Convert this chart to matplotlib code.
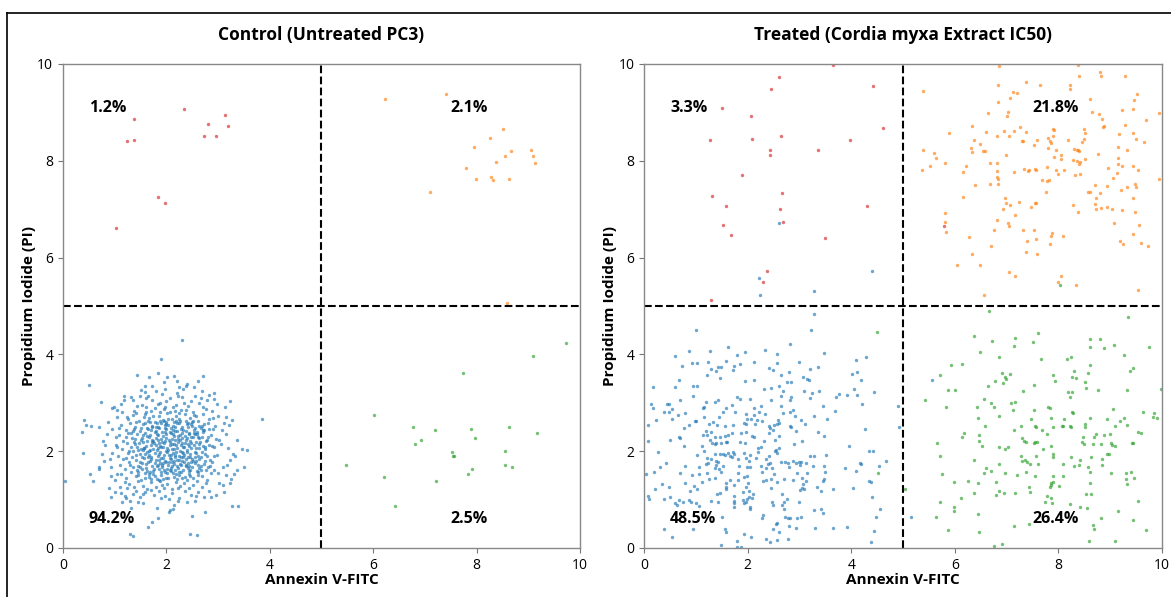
import numpy as np
import matplotlib
matplotlib.use("Agg")
import matplotlib.pyplot as plt
from matplotlib.lines import Line2D

plt.rcParams['font.family'] = ['Open Sans', 'DejaVu Sans']


def pts(s):
    # "x,y x,y ..." -> two arrays
    arr = np.array([[float(v) for v in p.split(',')] for p in s.split()])
    return arr[:, 0], arr[:, 1]


# ---- Control (untreated) ----
ctrl_necrotic = pts("""1.03,6.62 1.24,8.41 1.37,8.44 1.38,8.87 1.84,7.26 1.98,7.12 2.35,9.08
2.73,8.52 2.80,8.76 2.96,8.52 3.13,8.95 3.20,8.71""")

ctrl_late = pts("""6.23,9.27 7.40,9.38 7.10,7.35 7.80,7.85 7.95,8.29 7.98,7.62 8.25,8.47
8.27,7.67 8.31,7.61 8.38,7.98 8.52,8.65 8.55,8.10 8.62,7.63 8.66,8.20 9.06,8.22
9.09,8.10 9.12,7.95 8.58,5.07""")

ctrl_early = pts("""5.47,1.72 6.02,2.75 6.20,1.46 6.43,0.87 6.77,2.50 6.80,2.14 6.92,2.24
7.19,2.43 7.21,1.38 7.53,1.99 7.54,1.90 7.56,1.90 7.73,3.61 7.83,1.53 7.89,2.45
7.91,1.63 7.97,2.28 8.54,2.01 8.55,1.71 8.63,2.50 8.69,1.67 9.10,3.97 9.17,2.37
9.73,4.24""")

ctrl_live = pts("""2.31,4.30 1.89,3.90 0.50,3.37 1.43,3.57 1.84,3.62 1.67,3.53 2.01,3.54
2.15,3.56 2.20,3.46 2.71,3.55 2.61,3.45 2.38,3.35 1.59,3.35 1.51,3.26 1.80,3.24
1.98,3.28 2.24,3.32 2.54,3.33 0.74,3.02 1.18,3.06 1.35,3.06 1.61,3.09 1.64,3.13
2.92,3.20 2.93,3.07 3.23,3.04 0.95,2.89 0.99,2.91 1.44,2.93 1.88,3.00 1.99,3.04
2.23,3.13 2.55,3.14 2.71,2.92 3.13,2.91 0.41,2.64 0.37,2.40 0.44,2.54 0.54,2.52
0.70,2.49 3.85,2.67 3.16,2.70 3.26,2.64 3.11,2.59 2.94,2.52 3.37,2.23 3.46,2.04
3.55,2.02 3.51,1.68 0.38,1.96 0.04,1.38 0.52,1.52 0.58,1.39 0.70,1.68 0.70,1.63
0.78,2.22 0.75,1.94 0.81,2.12 0.89,1.23 0.92,1.05 1.01,1.40 1.13,1.14 1.15,0.94
1.21,1.03 1.31,0.83 1.30,0.28 1.35,0.25 1.65,0.44 1.72,0.53 1.83,0.61 2.06,0.79
2.13,0.81 2.50,0.66 2.46,0.29 2.59,0.27 2.75,0.74 3.27,0.86 3.39,0.87 3.12,1.15
3.23,1.34 3.24,1.43 3.30,1.53 3.15,1.51 3.02,1.34 2.82,1.17 2.57,1.08 2.40,0.95
2.22,0.97 1.89,1.03 1.46,0.94 1.55,1.12 1.70,1.20 1.42,1.18 1.24,1.23 1.19,1.36
1.05,1.53 0.92,1.67 0.90,1.83 0.95,1.96 1.04,2.09 1.03,2.29 1.09,2.47 1.04,2.70
1.15,2.81 1.23,2.70 2.88,2.84 3.00,2.73 3.08,2.43 3.02,2.24 3.19,2.07 3.33,1.91
3.23,1.82 3.37,1.61 2.93,1.61 3.09,1.68 2.97,1.92
1.52,2.95 1.70,2.83 1.83,2.97 1.95,2.88 2.07,2.81 2.18,2.96 2.29,2.86 2.41,2.93
2.52,2.82 2.63,2.99 1.38,2.84 2.77,2.87 1.61,2.91 2.34,2.99 2.12,2.91 1.88,2.80
1.25,2.66 1.36,2.74 1.47,2.62 1.58,2.77 1.66,2.68 1.77,2.61 1.86,2.73 1.93,2.64
2.02,2.78 2.11,2.67 2.19,2.72 2.27,2.63 2.36,2.77 2.45,2.68 2.54,2.74 2.62,2.63
2.71,2.76 2.83,2.66 1.42,2.79 2.24,2.79 1.99,2.61 2.49,2.61
1.12,2.55 1.21,2.44 1.29,2.58 1.40,2.49 1.49,2.42 1.55,2.57 1.64,2.46 1.72,2.53
1.80,2.41 1.89,2.58 1.97,2.47 2.04,2.55 2.13,2.43 2.21,2.59 2.30,2.50 2.38,2.42
2.47,2.56 2.56,2.47 2.64,2.53 2.73,2.44 2.81,2.58 2.90,2.46 1.35,2.41 1.84,2.50
2.17,2.51 2.60,2.40 1.68,2.60 2.42,2.59
1.08,2.33 1.17,2.22 1.26,2.37 1.33,2.27 1.44,2.35 1.51,2.24 1.59,2.38 1.67,2.29
1.75,2.21 1.82,2.36 1.90,2.26 1.98,2.39 2.05,2.23 2.14,2.32 2.22,2.25 2.31,2.38
2.39,2.28 2.46,2.21 2.55,2.35 2.63,2.27 2.71,2.39 2.79,2.23 2.87,2.34 2.95,2.26
1.37,2.20 1.62,2.31 1.94,2.31 2.26,2.34 2.51,2.29 2.09,2.37 1.79,2.28 2.43,2.36
1.22,2.30
1.03,2.12 1.14,2.04 1.23,2.17 1.31,2.08 1.39,2.15 1.46,2.02 1.54,2.19 1.61,2.10
1.69,2.03 1.76,2.16 1.84,2.07 1.91,2.18 1.99,2.01 2.06,2.13 2.15,2.05 2.23,2.19
2.32,2.09 2.40,2.02 2.48,2.16 2.57,2.07 2.65,2.18 2.74,2.04 2.83,2.13 2.92,2.08
1.28,2.01 1.57,2.06 1.88,2.11 2.19,2.12 2.44,2.10 2.70,2.11 1.72,2.19 2.02,2.07
2.36,2.16 1.43,2.09
1.06,1.91 1.16,1.83 1.25,1.96 1.34,1.87 1.41,1.81 1.49,1.94 1.56,1.85 1.63,1.98
1.71,1.89 1.79,1.82 1.86,1.95 1.94,1.86 2.01,1.99 2.09,1.84 2.17,1.93 2.25,1.81
2.33,1.97 2.41,1.88 2.50,1.83 2.58,1.96 2.67,1.87 2.75,1.94 2.84,1.82 2.93,1.90
1.21,1.86 1.52,1.89 1.83,1.91 2.13,1.97 2.37,1.84 2.62,1.90 1.97,1.80 2.29,1.89
1.67,1.93 2.05,1.92
1.10,1.72 1.19,1.64 1.27,1.77 1.36,1.68 1.44,1.61 1.53,1.75 1.60,1.66 1.68,1.79
1.76,1.63 1.83,1.71 1.91,1.67 1.99,1.78 2.07,1.62 2.15,1.74 2.22,1.66 2.31,1.79
2.38,1.69 2.46,1.61 2.55,1.76 2.63,1.65 2.72,1.73 2.80,1.67 2.89,1.78 1.49,1.68
1.87,1.76 2.11,1.69 2.42,1.75 2.67,1.62 1.95,1.61 2.26,1.73 1.73,1.70
1.13,1.52 1.22,1.44 1.32,1.57 1.41,1.48 1.50,1.41 1.58,1.55 1.66,1.46 1.74,1.59
1.82,1.43 1.89,1.51 1.97,1.58 2.04,1.45 2.12,1.54 2.20,1.42 2.28,1.57 2.36,1.47
2.44,1.53 2.52,1.44 2.61,1.58 2.69,1.49 2.78,1.41 2.86,1.55 1.45,1.56 1.78,1.49
2.08,1.59 2.40,1.40 1.93,1.43 2.24,1.50
1.28,1.33 1.37,1.25 1.46,1.38 1.55,1.29 1.63,1.22 1.71,1.36 1.79,1.27 1.87,1.39
1.95,1.24 2.02,1.32 2.10,1.21 2.18,1.37 2.26,1.28 2.34,1.35 2.43,1.23 2.51,1.31
2.60,1.38 2.68,1.26 2.77,1.34 1.91,1.31 2.22,1.24
1.35,1.12 1.48,1.05 1.59,1.16 1.76,1.09 1.86,1.18 1.98,1.07 2.11,1.14 2.24,1.04
2.36,1.17 2.48,1.10 2.62,1.15 2.73,1.06 2.05,1.01
1.48,3.15 1.73,3.05 1.92,3.18 2.06,3.09 2.31,3.12 2.47,3.03 2.66,3.10 2.82,3.17
1.32,3.11 2.20,3.20
1.62,2.21 1.71,2.44 1.80,2.12 1.85,1.63 1.92,2.40 2.00,2.27 2.03,1.72 2.08,2.48
2.16,1.88 2.20,2.41 2.27,2.01 2.33,1.62 2.38,2.23 2.45,1.95 2.53,2.44 1.58,1.94
1.66,1.53 1.74,2.05 1.81,2.58 1.88,1.99 1.96,2.16 2.01,1.54 2.10,2.26 2.14,1.80
2.19,2.62 2.25,1.56 2.30,2.27 2.35,1.78 2.42,2.49 2.49,1.68 2.58,2.20 2.64,1.84
1.54,2.33 1.60,1.73 1.69,2.34 1.77,1.96 1.83,2.24 1.90,1.57 1.97,2.54 2.04,2.02
2.09,1.66 2.13,2.52 2.18,1.98 2.23,2.31 2.28,1.71 2.34,2.08 2.40,2.56 2.46,1.88
2.53,2.12 2.61,1.72 2.69,2.29 1.47,2.17 1.53,1.63 1.64,2.63 1.70,1.84 1.78,2.39
1.85,1.81 1.93,2.09 1.99,2.46 2.06,1.86 2.12,2.36 2.16,1.61 2.21,2.07 2.29,2.45
2.35,1.93 2.43,1.59 2.48,2.30 2.56,1.99 2.66,2.48 2.74,1.80 1.42,1.93 1.50,2.48
1.57,2.06 1.65,1.78 1.73,2.23 1.81,1.69 1.86,2.47 1.94,1.76 2.00,2.35 2.07,2.19
2.11,1.77 2.17,2.24 2.24,1.91 2.31,2.17 2.37,1.72 2.44,2.38 2.52,1.80 2.59,2.36
2.68,1.98 2.76,2.21
0.85,2.35 0.92,1.48 1.05,2.85 1.10,1.25 1.18,3.15 1.30,0.98 1.55,0.92 1.72,3.35
1.95,3.42 2.15,0.88 2.40,3.38 2.55,0.98 2.68,3.25 2.86,1.05 2.98,2.98 3.10,1.30
3.22,2.55 3.28,1.95 3.05,2.15 0.80,1.80 0.88,2.60 1.00,1.15 1.12,2.98 2.90,2.68
3.00,1.55 2.95,1.10 1.58,3.22 2.32,3.28 2.78,3.05 1.20,1.08 0.95,2.45 3.15,2.35
3.18,1.72 2.05,0.75 1.82,0.83
1.55,2.02 1.63,2.48 1.68,1.58 1.75,2.72 1.82,2.02 1.87,2.62 1.92,1.72 1.98,2.21
2.03,2.66 2.08,1.93 2.14,2.14 2.18,1.52 2.24,2.58 2.28,2.12 2.33,2.43 2.39,1.99
2.44,1.70 2.50,2.52 2.55,1.89 2.61,2.30 2.66,1.70 2.72,2.57 2.78,1.90 1.48,1.78
1.52,2.28 1.59,2.58 1.64,1.88 1.70,2.13 1.75,1.52 1.80,2.49 1.85,2.17 1.90,1.86
1.96,2.62 2.02,1.63 2.06,2.40 2.10,2.04 2.15,2.60 2.21,1.69 2.26,2.24 2.32,1.87
2.37,2.62 2.41,2.14 2.47,1.77 2.53,2.37 2.59,1.60 2.64,2.06 2.70,2.43 2.76,1.62
1.40,2.26 1.45,1.70 1.50,2.05 1.57,2.70 1.62,1.60 1.67,2.00 1.72,2.50 1.78,1.75
1.84,2.33 1.89,2.08 1.95,1.92 2.00,2.56 2.05,1.78 2.10,2.15 2.16,2.42 2.20,1.81
2.25,2.67 2.30,1.98 2.36,2.32 2.42,1.66 2.47,2.07 2.52,2.62 2.58,1.79 2.63,2.15
2.68,2.52 2.74,2.08 2.80,2.30 1.35,2.00 1.38,2.45 1.46,1.50 1.58,1.45 1.70,1.42
1.86,1.40 2.00,1.44 2.14,1.46 2.30,1.45 2.46,1.48 2.62,1.50 1.42,2.60 1.60,2.82
1.78,2.90 1.98,2.92 2.16,2.84 2.38,2.85 2.58,2.72 2.82,2.46 2.88,2.10 2.85,1.70
1.30,1.72 1.32,2.38""")

# ---- Treated (Cordia myxa extract IC50) ----
trt_necrotic = pts("""3.64,9.97 2.61,9.74 4.42,9.55 2.46,9.48 1.51,9.10 2.07,8.93 4.62,8.68
1.28,8.44 2.08,8.46 2.64,8.51 3.98,8.43 2.43,8.23 3.35,8.22 2.43,8.11 1.89,7.71
1.31,7.27 2.67,7.34 1.59,7.07 2.63,7.00 4.31,7.07 1.53,6.67 2.69,6.74 1.67,6.47
3.50,6.40 2.38,5.73 2.30,5.50 1.29,5.13 5.79,6.65""")

trt_late = pts("""6.85,9.96 8.38,9.98 8.80,9.83 8.82,9.76 8.40,9.75 9.29,9.75 5.38,9.44
6.83,9.57 7.37,9.62 7.65,9.57 8.22,9.57 8.22,9.48 7.12,9.43 7.20,9.40 9.51,9.37
9.46,9.26 7.07,9.30 8.60,9.28 6.83,9.21 9.44,9.07 8.64,9.01 9.23,9.04 9.94,8.99
6.63,8.99 7.03,9.00 8.79,8.97 7.01,8.92 8.84,8.87 9.68,8.85 6.33,8.71 8.85,8.70
8.88,8.71 9.29,8.73 7.26,8.69 7.90,8.65 7.92,8.64 8.49,8.66 5.88,8.57 6.60,8.59
6.94,8.62 7.15,8.62 7.37,8.60 8.51,8.57 9.16,8.55 9.43,8.58 6.82,8.51 7.05,8.51
7.79,8.48 7.89,8.51 9.50,8.46 6.36,8.42 7.29,8.40 7.32,8.40 7.59,8.44 7.83,8.40
8.19,8.44 8.46,8.38 8.50,8.45 9.66,8.38 6.48,8.34 7.52,8.32 7.85,8.36 9.14,8.29
5.39,8.22 5.59,8.17 6.31,8.26 6.55,8.20 6.59,8.21 7.79,8.26 7.95,8.22 8.30,8.25
8.35,8.22 8.38,8.22 8.39,8.21 9.32,8.22 5.63,8.05 6.34,8.19 6.98,8.11 8.04,8.13
7.92,8.08 8.05,8.04 8.28,8.02 8.36,7.99 8.41,7.98 8.51,8.04 8.77,8.15 9.15,8.06
5.52,7.89 5.80,7.96 6.21,7.89 6.67,7.95 6.82,7.95 8.39,7.94 9.14,7.94 5.37,7.81
6.16,7.76 6.82,7.78 7.33,7.84 7.41,7.78 7.44,7.81 7.55,7.84 7.57,7.81 7.78,7.87
7.95,7.81 8.10,7.82 8.96,7.85 9.22,7.90 9.43,7.89 9.53,7.82 7.14,7.76 7.99,7.73
8.31,7.71 8.41,7.73 9.13,7.74 6.82,7.66 6.84,7.63 7.77,7.58 7.82,7.60 7.69,7.60
9.05,7.64 6.38,7.50 6.67,7.53 6.84,7.52 8.71,7.51 8.94,7.48 9.48,7.52 9.50,7.46
9.21,7.40 9.32,7.45 9.94,7.62 7.76,7.36 8.57,7.35 8.61,7.36 8.80,7.33 6.15,7.25
6.97,7.24 9.43,7.24 8.72,7.24 6.99,7.13 7.24,7.15 7.55,7.12 7.57,7.12 7.07,7.08
7.47,7.05 8.28,7.09 8.71,7.11 8.82,7.03 8.94,7.05 8.72,7.00 9.03,7.00 9.22,6.98
6.93,7.00 8.38,6.94 9.47,6.94 7.17,6.89 5.80,6.93 5.81,6.74 5.82,6.52 6.82,6.78
7.03,6.71 7.04,6.66 9.07,6.71 9.55,6.67 6.76,6.58 7.31,6.58 7.52,6.57 7.88,6.51
7.86,6.44 8.09,6.45 9.44,6.49 6.28,6.42 7.40,6.35 7.56,6.38 7.84,6.28 9.18,6.35
9.25,6.29 9.59,6.31 9.72,6.23 6.69,6.23 7.37,6.12 7.59,6.07 6.34,6.08 6.04,5.85
6.49,5.85 7.04,5.71 7.17,5.63 8.05,5.63 8.00,5.50 8.34,5.43 9.54,5.34 6.56,5.22""")

trt_early = pts("""6.65,4.89 9.35,4.78 7.60,4.45 6.36,4.38 7.16,4.33 8.61,4.31 8.80,4.32
6.72,4.28 7.51,4.26 7.15,4.17 8.61,4.15 8.88,4.13 9.08,4.19 9.75,4.16 6.48,4.04
9.27,3.98 6.85,3.95 7.66,3.90 8.17,3.90 8.25,3.95 5.93,3.79 6.13,3.80 8.61,3.78
9.43,3.71 9.39,3.66 5.72,3.57 6.90,3.62 6.97,3.53 6.99,3.50 7.07,3.59 6.78,3.46
6.92,3.40 7.89,3.58 7.94,3.45 8.30,3.65 8.27,3.53 8.33,3.51 8.57,3.61 8.51,3.42
6.63,3.35 7.52,3.37 5.87,3.27 6.00,3.26 7.31,3.24 8.19,3.22 8.27,3.22 8.54,3.31
8.77,3.26 9.32,3.26 9.98,3.29 8.23,3.11 5.42,3.05 6.57,3.07 7.16,3.02 7.08,2.99
6.70,3.00 5.83,2.91 6.43,2.92 6.75,2.91 7.79,2.92 7.83,2.89 7.12,2.86 8.27,2.82
8.28,2.78 9.06,2.87 7.52,2.85 9.64,2.82 9.85,2.79 9.83,2.71 9.91,2.68 6.86,2.72
6.45,2.69 7.46,2.66 7.85,2.69 8.10,2.66 8.60,2.68 8.93,2.66 9.18,2.62 9.26,2.69
6.59,2.53 7.28,2.53 7.55,2.52 7.57,2.49 7.89,2.50 8.06,2.52 8.08,2.53 8.23,2.52
8.24,2.50 8.52,2.56 8.51,2.51 9.09,2.53 9.33,2.55 7.14,2.43 7.69,2.44 6.18,2.38
6.14,2.30 8.73,2.35 8.88,2.34 8.99,2.35 9.54,2.40 9.60,2.37 7.77,2.36 6.46,2.34
8.47,2.29 6.47,2.22 7.30,2.27 7.33,2.22 7.37,2.20 7.53,2.16 7.55,2.19 7.58,2.20
8.45,2.18 8.49,2.15 8.68,2.29 8.66,2.14 8.82,2.15 9.02,2.16 9.04,2.13 9.10,2.11
9.41,2.16 9.44,2.16 5.66,2.16 6.52,2.11 6.86,2.09 6.97,2.04 7.02,2.09 7.71,2.05
7.86,2.10 7.28,1.90 7.56,1.91 7.89,1.94 7.90,1.89 8.24,1.88 8.63,1.87 8.94,1.94
8.98,1.94 5.71,1.91 6.36,1.81 7.29,1.80 7.35,1.82 7.39,1.78 8.42,1.81 8.84,1.83
6.85,1.74 7.45,1.73 7.61,1.74 8.09,1.74 8.29,1.69 8.40,1.71 8.84,1.71 8.56,1.67
6.61,1.65 6.70,1.59 7.38,1.58 6.56,1.54 5.76,1.53 6.96,1.54 7.19,1.51 7.54,1.49
7.89,1.49 8.09,1.49 8.60,1.56 9.01,1.55 9.31,1.54 9.40,1.58 9.31,1.43 9.45,1.44
5.98,1.36 6.25,1.39 6.45,1.35 6.79,1.37 7.86,1.35 7.90,1.36 7.85,1.31 8.60,1.35
9.33,1.33 7.43,1.25 7.84,1.27 8.01,1.29 6.86,1.18 7.45,1.16 6.36,1.14 6.80,1.09
6.95,1.14 7.16,1.14 8.53,1.12 8.62,1.12 7.77,1.08 7.86,1.03 6.12,1.03 7.73,0.95
7.88,0.93 5.72,0.96 9.53,0.98 5.98,0.84 5.99,0.76 8.22,0.91 8.42,0.85 8.55,0.82
9.15,0.76 6.44,0.70 5.64,0.65 8.83,0.61 9.43,0.58 7.43,0.49 7.15,0.45 8.67,0.47
8.69,0.39 5.86,0.37 6.46,0.32 9.69,0.38 8.59,0.14 9.10,0.14 6.76,0.04 6.90,0.08
5.04,1.21 8.02,5.44 4.49,4.46 4.52,1.54""")

trt_live = pts("""3.29,4.83 3.23,4.50 1.00,4.50 1.62,4.15 0.87,4.08 1.28,4.06 2.34,4.10
2.82,4.21 2.56,4.01 3.48,4.02 0.59,3.97 1.79,3.99 1.94,4.04 4.28,3.95 4.10,3.88
2.12,3.85 2.56,3.82 2.99,3.84 0.92,3.82 1.02,3.83 0.74,3.77 1.24,3.84 1.58,3.86
1.74,3.77 1.86,3.81 2.41,3.71 2.48,3.68 1.29,3.70 1.38,3.66 1.43,3.73 1.48,3.73
1.72,3.68 3.35,3.73 3.20,3.70 2.79,3.64 4.02,3.60 4.11,3.64 1.22,3.58 1.47,3.51
2.64,3.58 2.75,3.43 2.84,3.43 3.07,3.53 3.15,3.50 3.19,3.47 1.94,3.46 2.13,3.47
4.18,3.48 0.67,3.48 0.18,3.33 0.59,3.33 0.95,3.35 1.02,3.34 2.61,3.35 2.32,3.29
2.45,3.31 2.68,3.24 3.08,3.24 3.25,3.21 3.37,3.24 4.05,3.28 4.43,3.22 3.76,3.19
3.91,3.17 4.11,3.17 0.95,3.13 1.79,3.12 2.65,3.14 2.84,3.12 3.20,3.10 3.71,3.11
2.04,3.08 2.46,3.06 0.14,2.98 0.44,2.98 0.49,2.97 0.70,3.06 1.20,3.02 1.36,3.02
1.43,3.06 2.81,3.06 0.18,2.89 0.54,2.87 1.15,2.91 1.13,2.89 1.69,2.96 1.85,3.08
1.59,2.90 2.12,2.90 2.87,2.85 2.25,2.93 2.64,2.94 3.46,2.93 4.20,2.97 4.90,2.93
0.39,2.82 0.48,2.82 0.65,2.74 0.80,2.78 1.15,2.70 1.44,2.70 1.53,2.82 1.75,2.82
1.97,2.77 2.12,2.74 2.21,2.80 2.33,2.77 2.68,2.78 2.81,2.80 2.92,2.72 3.29,2.73
3.69,2.83 0.23,2.65 0.53,2.67 0.98,2.63 1.00,2.62 1.99,2.66 2.07,2.67 2.18,2.65
2.28,2.62 2.59,2.64 2.60,2.59 3.02,2.64 3.53,2.67 1.33,2.60 0.08,2.55 0.86,2.55
1.25,2.56 1.40,2.55 1.57,2.52 1.72,2.55 1.92,2.58 2.14,2.57 2.41,2.53 2.50,2.55
2.56,2.57 2.83,2.51 3.11,2.56 4.92,2.51 0.77,2.47 1.96,2.57 1.20,2.42 1.29,2.40
1.96,2.40 2.43,2.47 2.49,2.43 2.81,2.53 4.26,2.46 3.35,2.39 0.67,2.29 0.69,2.27
1.14,2.33 1.21,2.33 1.37,2.29 1.47,2.30 1.56,2.31 1.62,2.33 1.69,2.37 2.08,2.31
2.12,2.29 1.87,2.38 2.41,2.37 2.61,2.31 2.94,2.42 3.47,2.31 0.08,2.22 0.51,2.23
1.27,2.23 1.31,2.16 1.39,2.16 1.49,2.16 1.58,2.18 1.61,2.18 1.86,2.20 1.95,2.17
2.31,2.22 2.52,2.23 2.90,2.15 3.05,2.22 3.95,2.11 0.78,2.10 1.11,2.10 1.36,2.15
2.19,2.06 2.25,2.09 2.52,2.01 2.54,2.02 2.61,2.06 4.35,2.00 4.41,2.00 0.27,1.98
1.03,1.92 1.15,2.00 1.37,1.94 1.47,1.94 1.52,1.95 1.57,1.92 1.63,1.96 1.72,1.99
1.92,1.97 2.04,1.92 2.19,1.98 2.41,1.91 2.56,1.96 3.20,1.91 3.28,1.91 3.51,1.92
1.21,1.86 1.24,1.76 1.20,1.74 1.30,1.83 1.38,1.80 1.43,1.78 1.66,1.91 1.69,1.89
1.73,1.94 1.82,1.83 1.97,1.85 2.02,1.80 2.17,1.85 2.36,1.83 2.39,1.74 2.44,1.76
2.64,1.78 2.73,1.78 2.77,1.76 2.87,1.80 2.93,1.75 2.99,1.78 3.03,1.78 3.13,1.76
3.48,1.69 4.17,1.76 4.18,1.74 4.67,1.80 0.42,1.75 0.79,1.69 0.30,1.68 1.06,1.68
1.36,1.66 1.38,1.71 1.45,1.63 1.53,1.70 1.83,1.69 1.98,1.68 2.05,1.68 2.26,1.70
2.35,1.65 2.47,1.65 2.79,1.68 3.01,1.71 3.27,1.69 3.88,1.66 4.10,1.60 4.53,1.70
0.04,1.53 0.19,1.56 0.70,1.54 0.92,1.51 1.06,1.53 1.22,1.55 1.48,1.56 1.81,1.55
1.92,1.47 1.99,1.49 2.27,1.56 2.50,1.53 2.95,1.55 3.15,1.55 3.49,1.57 1.26,1.43
1.37,1.45 1.65,1.40 1.81,1.40 2.29,1.38 2.36,1.40 2.45,1.43 2.57,1.36 2.70,1.43
2.87,1.41 3.05,1.45 3.13,1.38 3.07,1.32 3.45,1.38 3.47,1.42 4.35,1.38 4.39,1.36
0.79,1.35 1.12,1.37 1.58,1.34 2.01,1.34 0.35,1.32 0.96,1.29 1.74,1.31 1.97,1.25
3.05,1.24 3.33,1.25 0.21,1.21 0.89,1.18 1.02,1.21 1.58,1.26 1.58,1.21 1.91,1.15
2.02,1.17 2.46,1.23 3.01,1.20 3.08,1.21 3.42,1.17 3.64,1.21 4.03,1.24 0.49,1.25
0.08,1.07 0.09,1.01 0.39,1.01 0.50,1.05 0.68,1.00 0.87,0.99 1.40,1.12 1.46,1.13
1.74,1.07 1.91,0.99 1.98,1.02 2.02,1.06 2.08,1.03 2.10,1.11 2.47,0.96 4.40,1.06
2.67,1.12 2.75,1.02 0.59,0.92 0.64,0.89 0.76,0.96 0.90,0.96 1.01,0.92 1.06,0.87
1.30,0.97 1.43,0.96 1.74,0.97 1.74,0.92 1.74,0.85 1.92,0.92 1.96,0.96 2.04,0.85
2.05,0.81 2.48,0.89 2.67,0.88 2.71,0.96 2.99,0.95 2.71,0.80 3.28,0.79 3.42,0.81
3.45,0.72 4.56,0.81 2.30,0.68 2.28,0.61 2.73,0.65 2.78,0.62 2.82,0.61 2.96,0.61
3.03,0.65 1.51,0.63 3.64,0.42 3.30,0.41 2.57,0.52 2.54,0.50 2.79,0.46 2.48,0.40
2.61,0.33 2.94,0.42 3.92,0.44 4.47,0.63 4.43,0.36 0.39,0.40 0.53,0.23 0.95,0.39
1.57,0.40 1.58,0.32 1.92,0.28 1.80,0.14 1.79,0.03 1.87,0.02 1.49,0.06 2.36,0.18
2.43,0.13 2.57,0.16 2.78,0.18 4.38,0.12 2.06,0.23
2.61,6.71 2.22,5.58 2.23,5.23 3.28,5.31 4.40,5.73 5.55,3.48 5.16,0.65""")

panels = [
    ("Control (Untreated PC3)", ctrl_live, ctrl_early, ctrl_late, ctrl_necrotic,
     ["94.2%", "2.5%", "2.1%", "1.2%"]),
    ("Treated (Cordia myxa Extract IC50)", trt_live, trt_early, trt_late, trt_necrotic,
     ["48.5%", "26.4%", "21.8%", "3.3%"]),
]

colors = ['#1f77b4', '#2ca02c', '#ff7f0e', '#d62728']
label_pos = [(0.5, 0.6), (7.5, 0.6), (7.5, 9.1), (0.5, 9.1)]

fig = plt.figure(figsize=(11.71, 5.97), dpi=100)
axes_rects = [[0.0538, 0.0821, 0.4415, 0.8107], [0.5500, 0.0821, 0.4424, 0.8107]]

for rect, (title, live, early, late, necro, pct) in zip(axes_rects, panels):
    ax = fig.add_axes(rect)
    for (xs, ys), c in zip([live, early, late, necro], colors):
        ax.scatter(xs, ys, s=6, c=c, alpha=0.65, linewidths=0)
    ax.axvline(5, color='black', ls='--', lw=1.5)
    ax.axhline(5, color='black', ls='--', lw=1.5)
    for (tx, ty), t in zip(label_pos, pct):
        ax.text(tx, ty, t, fontsize=11.5, fontweight='bold', ha='left', va='center')
    ax.set_xlim(0, 10)
    ax.set_ylim(0, 10)
    ax.set_xticks([0, 2, 4, 6, 8, 10])
    ax.set_yticks([0, 2, 4, 6, 8, 10])
    ax.set_title(title, fontsize=12.5, fontweight='bold', pad=17)
    ax.set_xlabel('Annexin V-FITC', fontsize=11, fontweight='bold', labelpad=0)
    ax.set_ylabel('Propidium Iodide (PI)', fontsize=11, fontweight='bold', labelpad=1)
    ax.tick_params(labelsize=10, color='#777777', length=3.5)
    for sp in ax.spines.values():
        sp.set_color('#888888')
        sp.set_linewidth(1.0)

# outer frame seen at the top and left of the image
fig.add_artist(Line2D([0.006, 1.0], [0.978, 0.978], color='black', lw=1.2))
fig.add_artist(Line2D([0.006, 0.006], [0.0, 0.978], color='black', lw=1.2))

fig.savefig('out.png', dpi=100)
